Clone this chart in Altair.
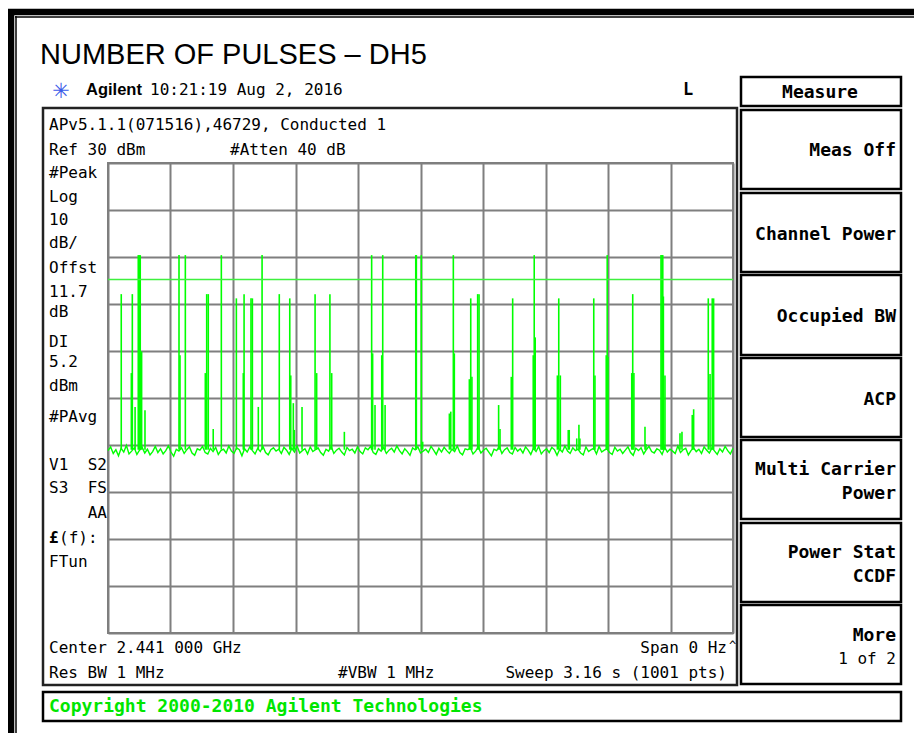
import altair as alt
import pandas as pd

sweep_s = 3.16          # sweep time (span 0 Hz, time domain)
ref_level = 30          # dBm, top of graticule
db_per_div = 10
display_line = 5.2      # dBm
floor_dbm = -31         # base of the pulses (noise floor)

noise_dbm = [
    -31.2, -30.4, -31.8, -31.0, -32.3, -30.7, -31.5, -30.1, -31.9, -31.3, -30.6, -32.0, -31.1, -30.5, -31.7, -30.9,
    -32.1, -31.4, -30.3, -31.6, -30.8, -31.9, -31.2, -30.2, -31.5, -32.4, -30.9, -31.3, -30.6, -31.8, -31.0, -30.4,
    -31.7, -32.2, -30.8, -31.1, -30.3, -31.6, -31.9, -30.7, -31.4, -30.5, -32.0, -31.2, -30.9, -31.7, -30.2, -31.3,
    -31.8, -30.6, -31.0, -32.3, -30.8, -31.5, -30.4, -31.2, -31.9, -30.7, -31.4, -30.3, -31.6, -32.1, -31.0, -30.6,
    -31.3, -30.9, -31.8, -30.5, -31.1, -32.0, -30.7, -31.5, -30.2, -31.7, -31.2, -30.8, -31.9, -30.4, -31.4, -31.0,
    -30.6, -31.6, -32.2, -30.9, -31.3, -30.3, -31.8, -31.1, -30.7, -31.5, -32.1, -30.5, -31.2, -30.9, -31.7, -30.4,
    -31.4, -31.9, -30.6, -31.0, -30.3, -31.6, -32.0, -30.8, -31.3, -30.5, -31.8, -31.1, -30.7, -31.5, -30.2, -31.2,
    -31.9, -30.8, -31.4, -32.2, -30.6, -31.0, -30.4, -31.7, -31.3, -30.9, -31.6, -30.3, -31.1, -32.0, -30.7, -31.5,
    -30.5, -31.2, -31.8, -30.9, -31.4, -30.2, -31.6, -32.1, -30.8, -31.0, -30.6, -31.9, -31.3, -30.4, -31.7, -31.1,
    -30.7, -31.5, -32.3, -30.9, -31.2, -30.3, -31.8, -31.0, -30.6, -31.6, -31.9, -30.5, -31.3, -30.8, -31.7, -30.4,
    -31.1, -32.0, -30.7, -31.4, -30.3, -31.9, -31.2, -30.8, -31.6, -30.5, -31.0, -32.2, -30.9, -31.5, -30.2, -31.3,
    -31.8, -30.6, -31.2, -30.9, -31.7, -32.1, -30.4, -31.4, -31.0, -30.7, -31.9, -30.3, -31.5, -31.1, -30.8, -31.6,
    -32.0, -30.5, -31.3, -30.9, -31.8, -31.1, -30.4, -31.6, -32.2, -30.7, -31.2, -30.6, -31.9, -31.0, -30.3, -31.4,
    -31.7, -30.8, -31.1, -32.0, -30.5, -31.5, -30.9, -31.3, -31.8, -30.2, -31.6, -31.0, -30.7, -32.1, -31.2, -30.6,
    -31.4, -30.9, -31.8, -30.4, -31.1, -31.7, -30.6, -31.3, -32.0, -30.8, -31.5, -30.3, -31.2, -31.9, -30.7,
]

peak_t = [
    0.067, 0.118, 0.123, 0.137, 0.153, 0.158, 0.163, 0.170, 0.187, 0.359,
    0.364, 0.391, 0.492, 0.499, 0.507, 0.532, 0.573, 0.649, 0.684, 0.688,
    0.723, 0.730, 0.760, 0.779, 0.866, 0.919, 0.924, 0.937, 0.942, 0.981,
    1.047, 1.055, 1.122, 1.131, 1.195, 1.333, 1.338, 1.350, 1.384, 1.389,
    1.401, 1.556, 1.559, 1.584, 1.591, 1.726, 1.733, 1.746, 1.751, 1.827,
    1.834, 1.840, 1.869, 1.876, 1.975, 1.982, 2.039, 2.046, 2.150, 2.155,
    2.160, 2.272, 2.279, 2.287, 2.327, 2.332, 2.370, 2.381, 2.386, 2.456,
    2.462, 2.519, 2.524, 2.528, 2.648, 2.653, 2.659, 2.715, 2.720, 2.796,
    2.801, 2.805, 2.808, 2.816, 2.892, 2.902, 2.954, 2.961, 3.035, 3.044,
    3.055, 3.062,
]
peak_dbm = [
    2.1, -14.7, 2.1, -21.9, 10.4, 10.4, 10.4, -10.1, -22.6, 10.4,
    -10.9, 10.4, -14.7, 2.1, 2.1, -26.6, 10.4, 1.2, -14.7, 2.1,
    1.2, 1.2, -21.9, 10.4, 2.1, 1.2, -15.2, -21.1, -26.8, -21.9,
    2.1, -14.7, 2.1, -14.7, -27.2, 10.4, -10.5, -21.5, -10.9, 10.4,
    -21.5, 10.4, 10.4, 10.4, -29.3, -23.3, -22.9, 10.4, -10.5, -16.0,
    1.2, -15.5, 2.1, 2.1, -21.5, -26.6, -15.5, 1.2, -10.9, 10.4,
    -7.1, -15.2, 1.2, -15.2, -26.8, -26.8, -28.6, -25.7, -28.6, 1.2,
    -15.2, -10.9, 10.4, -11.2, -14.7, 2.1, -14.7, -26.1, -29.8, 10.4,
    10.4, 10.4, 1.6, -15.2, -27.5, -27.2, -23.6, -22.4, 1.2, -14.9,
    1.2, 1.2,
]

# ---------------- layout (page pixels) ----------------
OX, OY = 108, 163       # top-left of graticule on the page
W, H = 625, 470
MONO = "DejaVu Sans Mono"
SANS = "Liberation Sans"
GREEN = "#00ff00"

noise_t = [i * sweep_s / (len(noise_dbm) - 1) for i in range(len(noise_dbm))]
noise_df = pd.DataFrame({"t": noise_t, "dbm": noise_dbm})
peak_df = pd.DataFrame({"t": peak_t, "dbm": peak_dbm, "base": [floor_dbm] * len(peak_t)})
one = pd.DataFrame({"k": [0]})

xs = alt.Scale(domain=[0, sweep_s], nice=False, zero=False)
ys = alt.Scale(domain=[ref_level - 10 * db_per_div, ref_level], nice=False, zero=False)
x_axis = alt.Axis(values=[round(i * sweep_s / 10, 4) for i in range(11)], labels=False,
                  ticks=False, domain=False, grid=True, gridColor="#7f7f7f", gridWidth=2, title=None)
y_axis = alt.Axis(values=[ref_level - db_per_div * i for i in range(11)], labels=False,
                  ticks=False, domain=False, grid=True, gridColor="#7f7f7f", gridWidth=2, title=None)


def txt(s, px, py, size=16, font=MONO, weight="normal", align="left", color="black"):
    return alt.Chart(one).mark_text(
        text=s, font=font, fontSize=size, fontWeight=weight, align=align,
        baseline="alphabetic", color=color,
    ).encode(x=alt.value(px - OX), y=alt.value(py - OY))


def box(x1, y1, x2, y2, stroke="black", sw=2.5):
    return alt.Chart(one).mark_rect(stroke=stroke, strokeWidth=sw, fill="white", fillOpacity=0).encode(
        x=alt.value(x1 - OX), x2=alt.value(x2 - OX),
        y=alt.value(y1 - OY), y2=alt.value(y2 - OY))


def hline(x1, x2, y, sw):
    return alt.Chart(one).mark_rule(color="black", strokeWidth=sw).encode(
        x=alt.value(x1 - OX), x2=alt.value(x2 - OX), y=alt.value(y - OY))


def vline(x, y1, y2, sw):
    return alt.Chart(one).mark_rule(color="black", strokeWidth=sw).encode(
        x=alt.value(x - OX), y=alt.value(y1 - OY), y2=alt.value(y2 - OY))


BOLD18 = dict(size=18, weight="bold", align="right")

decor = [
    # outer frame
    hline(8, 922, 12, 6.5),
    vline(11, 9, 748, 6.5),
    hline(15, 922, 17, 1.5),
    vline(16, 16, 748, 1.5),
    # screen and soft keys
    box(43, 108, 737, 685, stroke="#222"),
    box(741, 77, 901, 106),
    box(741, 110, 901, 189),
    box(741, 193, 901, 272),
    box(741, 275, 901, 355),
    box(741, 358, 901, 437),
    box(741, 440, 901, 519),
    box(741, 523, 901, 602),
    box(741, 605, 901, 684),
    box(43, 692, 901, 721),
    # titles
    txt("NUMBER OF PULSES \u2013 DH5", 40, 64, size=29, font=SANS),
    txt("\u2733", 61, 98, size=21, font="DejaVu Sans", align="center", color="#3a5ae8"),
    txt("Agilent", 86, 95, size=16.5, font=SANS, weight="bold"),
    txt("10:21:19  Aug 2, 2016", 150, 95),
    txt("L", 683, 95, size=17, weight="bold"),
    txt("APv5.1.1(071516),46729, Conducted 1", 49, 130),
    txt("Ref 30 dBm", 49, 155),
    txt("#Atten 40 dB", 230, 155),
    # left annotations
    txt("#Peak", 49, 178),
    txt("Log", 49, 202),
    txt("10", 49, 225),
    txt("dB/", 49, 248),
    txt("Offst", 49, 273),
    txt("11.7", 49, 297),
    txt("dB", 49, 317),
    txt("DI", 49, 347),
    txt("5.2", 49, 367),
    txt("dBm", 49, 391),
    txt("#PAvg", 49, 422),
    txt("V1", 49, 470),
    txt("S2", 107, 470, align="right"),
    txt("S3", 49, 493),
    txt("FS", 107, 493, align="right"),
    txt("AA", 107, 518, align="right"),
    txt("\u00a3", 49, 543, weight="bold"),
    txt("(f):", 59, 543),
    txt("FTun", 49, 567),
    # bottom annotations
    txt("Center 2.441 000 GHz", 49, 653),
    txt("Span 0 Hz", 727, 653, align="right"),
    txt("^", 729, 650, size=12),
    txt("Res BW 1 MHz", 49, 678),
    txt("#VBW 1 MHz", 338, 678),
    txt("Sweep 3.16 s (1001 pts)", 727, 678, align="right"),
    txt("Copyright 2000-2010 Agilent Technologies", 49, 712, size=18, weight="bold", color="#00e600"),
    # soft keys
    txt("Measure", 820, 98, size=18, weight="bold", align="center"),
    txt("Meas Off", 896, 156, **BOLD18),
    txt("Channel Power", 896, 240, **BOLD18),
    txt("Occupied BW", 896, 322, **BOLD18),
    txt("ACP", 896, 405, **BOLD18),
    txt("Multi Carrier", 896, 475, **BOLD18),
    txt("Power", 896, 499, **BOLD18),
    txt("Power Stat", 896, 558, **BOLD18),
    txt("CCDF", 896, 582, **BOLD18),
    txt("More", 896, 641, **BOLD18),
    txt("1 of 2", 896, 664, size=16, align="right"),
]

trace = alt.Chart(noise_df).mark_line(color=GREEN, strokeWidth=1.4).encode(
    x=alt.X("t:Q", scale=xs, axis=x_axis),
    y=alt.Y("dbm:Q", scale=ys, axis=y_axis),
)
spikes = alt.Chart(peak_df).mark_rule(color=GREEN, strokeWidth=1.6).encode(
    x=alt.X("t:Q", scale=xs),
    y=alt.Y("dbm:Q", scale=ys),
    y2="base:Q",
)
dline = alt.Chart(pd.DataFrame({"dl": [display_line]})).mark_rule(
    color="#3ef03e", strokeWidth=1.5).encode(y=alt.Y("dl:Q", scale=ys))

chart = alt.layer(*decor, trace, spikes, dline).properties(
    width=W, height=H,
    padding={"left": 100, "top": 155, "right": 181, "bottom": 100},
    autosize=alt.AutoSizeParams(type="none"),
    background="white",
).configure_view(stroke="#7f7f7f", strokeWidth=2)

chart.save("out.html", embed_options={"renderer": "svg", "actions": False})
